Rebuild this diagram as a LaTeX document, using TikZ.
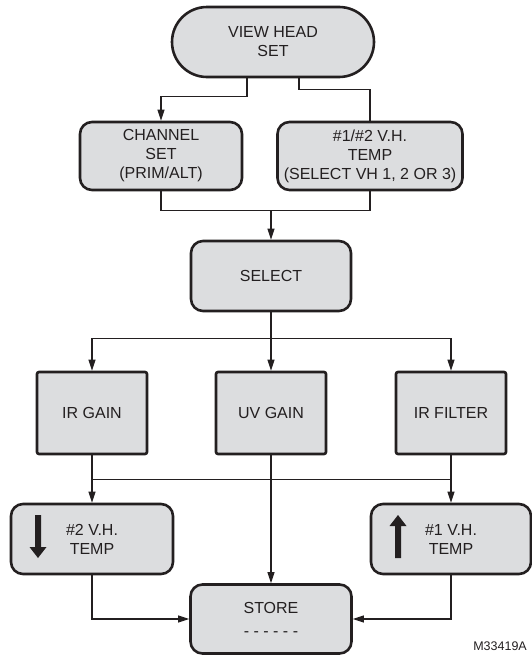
\documentclass[tikz,border=0pt]{standalone}
\usepackage{fontspec}
\setmainfont{Liberation Sans}
\usetikzlibrary{arrows.meta,shapes.misc,calc}
\definecolor{boxgray}{RGB}{220,221,223}
\definecolor{ink}{RGB}{35,31,32}
\begin{document}
\begin{tikzpicture}[x=1pt,y=-1pt,
  base/.style={draw=ink, line width=2.6pt, fill=boxgray, inner sep=0pt, align=center, text=ink, font=\fontsize{16}{19}\selectfont},
  rbox/.style={base, rounded corners=12pt},
  sbox/.style={base, rounded corners=2pt},
  pill/.style={base, rounded rectangle},
  conn/.style={draw=ink, line width=1.2pt},
  arr/.style={conn, -{Triangle[length=11pt,width=7pt]}}
]
\useasboundingbox (0,0) rectangle (532,656);

\node[pill, minimum width=202pt, minimum height=70pt] (vh) at (273,42) {VIEW HEAD\\SET};
\node[rbox, minimum width=162pt, minimum height=68pt] (chan) at (161,156) {CHANNEL\\SET\\(PRIM/ALT)};
\node[rbox, minimum width=185pt, minimum height=68pt] (temp) at (370,156) {\#1/\#2 V.H.\\TEMP\\(SELECT VH 1, 2 OR 3)};
\node[rbox, minimum width=160pt, minimum height=70pt] (sel) at (271,276) {SELECT};
\node[sbox, minimum width=110pt, minimum height=82pt] (irg) at (92,413) {IR GAIN};
\node[sbox, minimum width=110pt, minimum height=82pt] (uvg) at (271,413) {UV GAIN};
\node[sbox, minimum width=110pt, minimum height=82pt] (irf) at (451,413) {IR FILTER};
\node[rbox, minimum width=162pt, minimum height=70pt] (t2) at (92,539) {\#2 V.H.\\TEMP};
\node[rbox, minimum width=160pt, minimum height=70pt] (t1) at (451,539) {\#1 V.H.\\TEMP};
\node[rbox, minimum width=161pt, minimum height=69pt] (store) at (271,619) {STORE\\[4pt]- - - - - -};
\node[anchor=base east, inner sep=0pt, text=ink, font=\fontsize{12.5}{14}\selectfont] (lbl) at (527,650) {M33419A};

% connectors
\coordinate (vhL) at ($(vh.south)+(-26,0)$);
\coordinate (vhR) at ($(vh.south)+(26,0)$);
\draw[arr] (vhL) -- ++(0,18) -| (chan.north);
\draw[conn] (vhR) -- ++(0,11) -| (temp.north);

\coordinate (j1) at ($(chan.south)+(0,19)$);
\draw[conn] (chan.south) -- (j1) -| (temp.south);
\draw[arr] (j1 -| sel.north) -- (sel.north);

\coordinate (j2) at ($(sel.south)+(0,26)$);
\draw[arr] (sel.south) -- (uvg.north);
\draw[conn] (j2 -| irg.north) -- (j2 -| irf.north);
\draw[arr] (j2 -| irg.north) -- (irg.north);
\draw[arr] (j2 -| irf.north) -- (irf.north);

\coordinate (j3) at ($(irg.south)+(0,24)$);
\draw[arr] (irg.south) -- (t2.north);
\draw[arr] (irf.south) -- (t1.north);
\draw[conn] (j3) -- (j3 -| irf.south);
\draw[arr] (uvg.south) -- (store.north);
\draw[arr] (t2.south) |- (store.west);
\draw[arr] (t1.south) |- (store.east);

% thick arrows inside boxes
\fill[ink] (35,515) -- (41,515) -- (41,547) -- (46.5,547) -- (38,558) -- (29.5,547) -- (35,547) -- cycle;
\fill[ink] (398,515) -- (406.5,526) -- (401,526) -- (401,558) -- (395,558) -- (395,526) -- (389.5,526) -- cycle;
\end{tikzpicture}
\end{document}
